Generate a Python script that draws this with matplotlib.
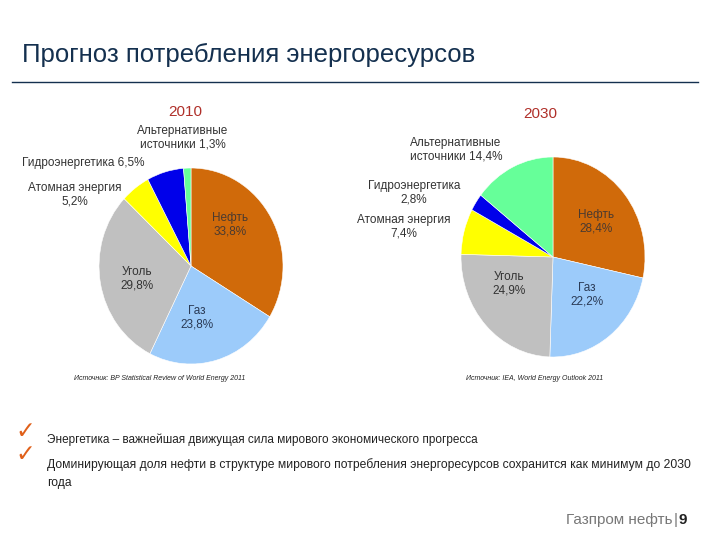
import matplotlib
matplotlib.use("Agg")
import matplotlib.pyplot as plt
from matplotlib.lines import Line2D

plt.rcParams['font.family'] = ['Liberation Sans', 'DejaVu Sans']

categories = ["Нефть", "Газ", "Уголь", "Атомная энергия", "Гидроэнергетика", "Альтернативные источники"]
values_2010 = [33.8, 23.8, 29.8, 5.2, 6.5, 1.3]
values_2030 = [28.4, 22.2, 24.9, 7.4, 2.8, 14.4]
colors = ["#D06A0A", "#9CCBFA", "#C0C0C0", "#FFFF00", "#0000EA", "#66FF99"]

W, H = 720, 540
fig = plt.figure(figsize=(7.2, 5.4), dpi=100)
fig.patch.set_facecolor("white")

def fx(x):
    return x / W

def fy(y):
    return 1 - y / H

def make_pie(cx, cy, rx, ry, vals):
    lim = 1.1
    w = 2 * rx * lim
    h = 2 * ry * lim
    ax = fig.add_axes([fx(cx - w / 2), fy(cy + h / 2), w / W, h / H])
    ax.pie(vals, colors=colors, startangle=90, counterclock=False,
           wedgeprops=dict(linewidth=0.4, edgecolor="white"))
    ax.set_aspect("auto")
    ax.set_xlim(-lim, lim)
    ax.set_ylim(-lim, lim)
    ax.axis("off")
    return ax

make_pie(191, 266, 92, 98, values_2010)
make_pie(553, 257, 92, 100, values_2030)

def t(x, y, s, size=8.5, color="#222222", ha="center", va="center", **kw):
    fig.text(fx(x), fy(y), s, fontsize=size, color=color, ha=ha, va=va,
             linespacing=1.15, **kw)

# Title
t(22, 55, "Прогноз потребления энергоресурсов", size=18.5, color="#14304F", ha="left")
fig.add_artist(Line2D([fx(12), fx(698)], [fy(82), fy(82)], color="#14304F", lw=1.0))

# Years
t(185, 112, "2010", size=11, color="#B0302A")
t(540, 114, "2030", size=11, color="#B0302A")

lbl = "#333333"
# 2010 labels
t(183, 138, "Альтернативные\nисточники 1,3%", color=lbl)
t(22, 163, "Гидроэнергетика 6,5%", color=lbl, ha="left")
t(75, 195, "Атомная энергия\n5,2%", color=lbl)
t(230, 225, "Нефть\n33,8%", color="#4A3A30")
t(137, 279, "Уголь\n29,8%", color=lbl)
t(197, 318, "Газ\n23,8%", color="#2A3A55")

# 2030 labels
t(456, 150, "Альтернативные\nисточники 14,4%", color=lbl)
t(414, 193, "Гидроэнергетика\n2,8%", color=lbl)
t(404, 227, "Атомная энергия\n7,4%", color=lbl)
t(596, 222, "Нефть\n28,4%", color="#4A3A30")
t(509, 284, "Уголь\n24,9%", color=lbl)
t(587, 295, "Газ\n22,2%", color="#2A3A55")

# Sources
t(160, 379, "Источник: BP Statistical Review of World Energy 2011", size=5, color="#222222", style="italic")
t(535, 379, "Источник: IEA, World Energy Outlook 2011", size=5, color="#222222", style="italic")

# Bullets
for yy in (431, 454):
    fig.text(fx(25), fy(yy), "✓", fontsize=17, color="#E0601A", ha="center", va="center",
             family="DejaVu Sans", fontweight="bold")
t(47, 440, "Энергетика – важнейшая движущая сила мирового экономического прогресса",
  size=8.5, color="#222222", ha="left")
t(47, 465, "Доминирующая доля нефти в структуре мирового потребления энергоресурсов сохранится как минимум до 2030",
  size=8.7, color="#222222", ha="left")
t(47, 483, "года", size=8.7, color="#222222", ha="left")

# Footer
t(672, 520, "Газпром нефть", size=11, color="#777777", ha="right")
t(676, 520, "|", size=11, color="#777777", ha="center")
t(683, 520, "9", size=11, color="#222222", ha="center", fontweight="bold")

fig.savefig("out.png", dpi=100)
